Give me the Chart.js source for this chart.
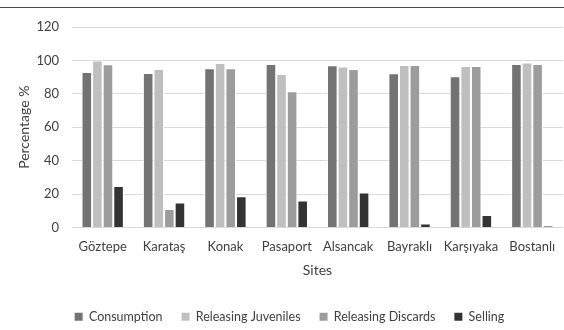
<!DOCTYPE html>
<html>
<head>
<meta charset="utf-8">
<script src="https://cdn.jsdelivr.net/npm/chart.js@4.4.1/dist/chart.umd.min.js"></script>
<style>
  html, body { margin: 0; padding: 0; background: #ffffff; }
  #wrap { position: relative; width: 564px; height: 330px; }
  #rule { position: absolute; left: 0; top: 7px; width: 564px; height: 1px; background: #4a4a4a; }
  canvas { position: absolute; left: 0; top: 0; }
</style>
</head>
<body>
<div id="wrap">
  <canvas id="chart" width="564" height="330"></canvas>
  <div id="rule"></div>
</div>
<script>
// Sites surveyed along the bay
const sites = ['Göztepe', 'Karataş', 'Konak', 'Pasaport', 'Alsancak', 'Bayraklı', 'Karşıyaka', 'Bostanlı'];

// Share of respondents (%) per practice
const consumption        = [93.1, 92.5, 95.3, 97.9, 97.1, 92.3, 90.5, 97.9];
const releasingJuveniles = [100.0, 94.9, 98.5, 91.9, 96.3, 97.3, 96.7, 98.7];
const releasingDiscards  = [97.7, 11.1, 95.3, 81.6, 94.9, 97.3, 96.7, 97.9];
const selling            = [24.8, 14.9, 18.7, 16.1, 20.9, 2.4, 7.5, 1.0];

const yTicks = [0, 20, 40, 60, 80, 100, 120];

const FONT = 'Lato, "Open Sans", sans-serif';
const TEXT = '#404040';

function series(label, data, color) {
  return {
    label, data,
    backgroundColor: color,
    borderColor: '#ffffff',
    borderWidth: 1,
    categoryPercentage: 0.69,
    barPercentage: 1.0
  };
}

new Chart(document.getElementById('chart'), {
  type: 'bar',
  data: {
    labels: sites,
    datasets: [
      series('Consumption', consumption, '#737373'),
      series('Releasing Juveniles', releasingJuveniles, '#bfbfbf'),
      series('Releasing Discards', releasingDiscards, '#9c9c9c'),
      series('Selling', selling, '#333333')
    ]
  },
  options: {
    responsive: false,
    animation: false,
    layout: { padding: { top: 27, right: 1, bottom: -3, left: 16 } },
    plugins: {
      tooltip: { enabled: false },
      legend: {
        position: 'bottom',
        labels: {
          font: { family: FONT, size: 12.5 },
          color: TEXT,
          boxWidth: 8,
          boxHeight: 8,
          padding: 19,
          generateLabels(chart) {
            return chart.data.datasets.map((ds, i) => ({
              text: ds.label,
              fillStyle: ds.backgroundColor,
              strokeStyle: ds.backgroundColor,
              lineWidth: 0,
              hidden: false,
              datasetIndex: i,
              fontColor: TEXT
            }));
          }
        }
      }
    },
    scales: {
      x: {
        afterFit(axis) { axis.height = 64; },
        grid: { display: false },
        border: { display: false },
        ticks: { font: { family: FONT, size: 13 }, color: TEXT, padding: 4, maxRotation: 0 },
        title: { display: true, text: 'Sites', font: { family: FONT, size: 14 }, color: TEXT, padding: { top: 4, bottom: 13 } }
      },
      y: {
        min: 0, max: 120,
        afterBuildTicks(axis) { axis.ticks = yTicks.map(v => ({ value: v })); },
        afterFit(axis) { axis.width = 56; },
        grid: { color: '#d9d9d9', lineWidth: 1, drawTicks: false },
        border: { display: false },
        ticks: { font: { family: FONT, size: 13 }, color: TEXT, padding: 13 },
        title: { display: true, text: 'Percentage %', font: { family: FONT, size: 14 }, color: TEXT, padding: { top: 0, bottom: 4 } }
      }
    }
  }
});
</script>
</body>
</html>
